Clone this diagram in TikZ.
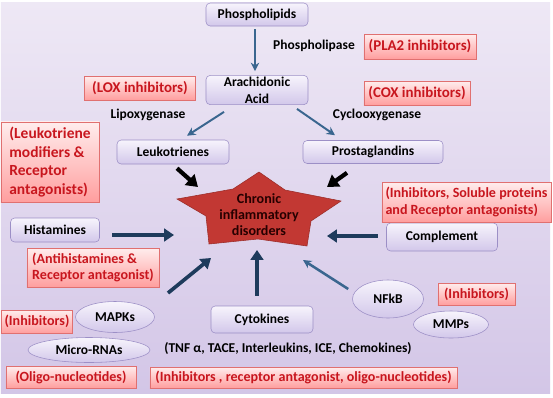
\documentclass[tikz,border=0pt]{standalone}
\usepackage{fontspec}
\setmainfont{Carlito}
\usetikzlibrary{arrows.meta,calc,shapes.geometric}
\definecolor{bgtop}{HTML}{EEE8F5}
\definecolor{bgbot}{HTML}{D3C6E7}
\definecolor{boxline}{HTML}{9C8FC6}
\definecolor{boxtop}{HTML}{F7F4FC}
\definecolor{boxbot}{HTML}{D2C7EA}
\definecolor{redline}{HTML}{E07070}
\definecolor{redtop}{HTML}{FFEDED}
\definecolor{redbot}{HTML}{FF9E9E}
\definecolor{redtxt}{HTML}{C8161E}
\definecolor{arrblue}{HTML}{3A668F}
\definecolor{navy}{HTML}{1E3B5C}
\definecolor{starred}{HTML}{C23833}

\begin{document}
\begin{tikzpicture}[x=0.025cm,y=-0.025cm,font=\fontsize{9.6}{12}\selectfont\bfseries,
      pbox/.style={draw=boxline,top color=boxtop,bottom color=boxbot,rounded corners=3pt,align=center,inner sep=1pt},
      oval/.style={ellipse,draw=boxline,top color=boxtop,bottom color=boxbot,inner sep=0pt},
      rbox/.style={draw=redline,top color=redtop,bottom color=redbot,text=redtxt,align=center,inner sep=1pt,
        font=\fontsize{10}{12}\selectfont\bfseries},
      bigred/.style={rbox,font=\fontsize{10.6}{12.5}\selectfont\bfseries},
      thinarr/.style={draw=arrblue,line width=1.4pt,-{Stealth[length=6pt,width=6pt]}},
      blackarr/.style={draw=black,line width=3pt,-{Triangle[length=8pt,width=10pt]}},
      navyarr/.style={draw=navy,line width=2.6pt,-{Triangle[length=7pt,width=9pt]}}]
    % background
    \useasboundingbox (0,0) rectangle (553,397);
    \fill[white] (0,0) rectangle (553,397);
    \shade[top color=bgtop,bottom color=bgbot] (1,2) rectangle (550,393);
    % pathway boxes
    \node[pbox,minimum width=2.55cm,minimum height=0.575cm] (phos) at (257,14.5) {Phospholipids};
    \node[pbox,minimum width=2.55cm,minimum height=0.7cm] (ara) at (257,90) {Arachidonic\\Acid};
    \node[pbox,minimum width=2.8cm,minimum height=0.6cm] (leuk) at (173,152) {Leukotrienes};
    \node[pbox,minimum width=3.5cm,minimum height=0.575cm] (prost) at (373,152) {Prostaglandins};
    \node[pbox,minimum width=2.225cm,minimum height=0.6cm] (hist) at (55,230) {Histamines};
    \node[pbox,minimum width=2.775cm,minimum height=0.7cm] (compl) at (442,237) {Complement};
    \node[pbox,minimum width=2.55cm,minimum height=0.675cm] (cyto) at (262,319.5) {Cytokines};
    % ellipses
    \node[oval,minimum width=1.975cm,minimum height=0.775cm] (mapk) at (115,317) {MAPKs};
    \node[oval,minimum width=3.05cm,minimum height=0.625cm] (mirna) at (89,350) {Micro-RNAs};
    \node[oval,minimum width=1.775cm,minimum height=0.95cm] (nfkb) at (388,299) {NFkB};
    \node[oval,minimum width=1.875cm,minimum height=0.675cm] (mmp) at (451,324.5) {MMPs};
    % enzymes and side text
    \node (pla) at (314,46) {Phospholipase};
    \node (lipo) at (148,115) {Lipoxygenase};
    \node (cyclo) at (377,115) {Cyclooxygenase};
    \node (tnf) at (288,349) {(TNF α, TACE, Interleukins, ICE, Chemokines)};
    % drug boxes
    \node[bigred,minimum width=2.8cm,minimum height=0.625cm] (pla2) at (420,46.5) {(PLA2 inhibitors)};
    \node[bigred,minimum width=2.775cm,minimum height=0.6cm] (lox) at (140,88) {(LOX inhibitors)};
    \node[bigred,minimum width=2.65cm,minimum height=0.6cm] (cox) at (417,93) {(COX inhibitors)};
    \node[rbox,align=left,minimum width=2.45cm,minimum height=2cm,font=\fontsize{11}{13.3}\selectfont\bfseries] (ltmod) at (50,162)
      {(Leukotriene\\modifiers \&\\Receptor\\antagonists)};
    \node[rbox,align=left,minimum width=4.225cm,minimum height=1cm] (solub) at (466.5,202)
      {(Inhibitors, Soluble proteins\\and Receptor antagonists)};
    \node[rbox,align=left,minimum width=3.3cm,minimum height=0.975cm] (antih) at (93,267.5)
      {(Antihistamines \&\\Receptor antagonist)};
    \node[rbox,minimum width=1.775cm,minimum height=0.575cm] (inhl) at (37,321.5) {(Inhibitors)};
    \node[rbox,minimum width=3.25cm,minimum height=0.55cm] (oligo) at (71,377) {(Oligo-nucleotides)};
    \node[rbox,minimum width=7.675cm,minimum height=0.525cm] (inhb) at (303.5,377.5)
      {(Inhibitors , receptor antagonist, oligo-nucleotides)};
    \node[rbox,minimum width=1.925cm,minimum height=0.55cm] (inhr) at (476.5,294) {(Inhibitors)};
    % star
    \fill[starred,draw=starred!80!black] (259,172) -- (285,190) -- (341,201) -- (311,221) -- (307,246)
      -- (258,239) -- (209,244) -- (206,216) -- (177,199) -- (233,189) -- cycle;
    \node[align=center,text=black!85!red,font=\fontsize{10}{11.4}\selectfont\bfseries] (chr) at (259,215)
      {Chronic\\inflammatory\\disorders};
    % arrows
    \draw[thinarr] ($(phos.south)+(-2,3)$) -- ($(ara.north)+(-2,-4)$);
    \draw[thinarr] ($(ara.south)+(-33,7)$) -- ($(leuk.north)+(14,-4)$);
    \draw[thinarr] ($(ara.south)+(40,4)$) -- ($(prost.north)+(-38,-5)$);
    \draw[blackarr] ($(leuk.south)+(4,4)$) -- ($(chr)+(-61,-28)$);
    \draw[blackarr] ($(prost.south)+(-26,9)$) -- ($(chr)+(68,-28)$);
    \draw[navyarr] ($(hist.east)+(12.5,5)$) -- ($(chr)+(-85,20)$);
    \draw[navyarr] ($(compl.west)+(-8.5,-1)$) -- ($(chr)+(68,21)$);
    \draw[navyarr] ($(mapk)+(53,-24)$) -- ($(chr)+(-48,43)$);
    \draw[navyarr] ($(cyto.north)+(-5,-10)$) -- ($(chr)+(-2,35)$);
    \draw[thinarr,line width=1.8pt] ($(nfkb.west)+(-4,-10)$) -- ($(chr)+(44,45)$);
  \end{tikzpicture}
\end{document}
